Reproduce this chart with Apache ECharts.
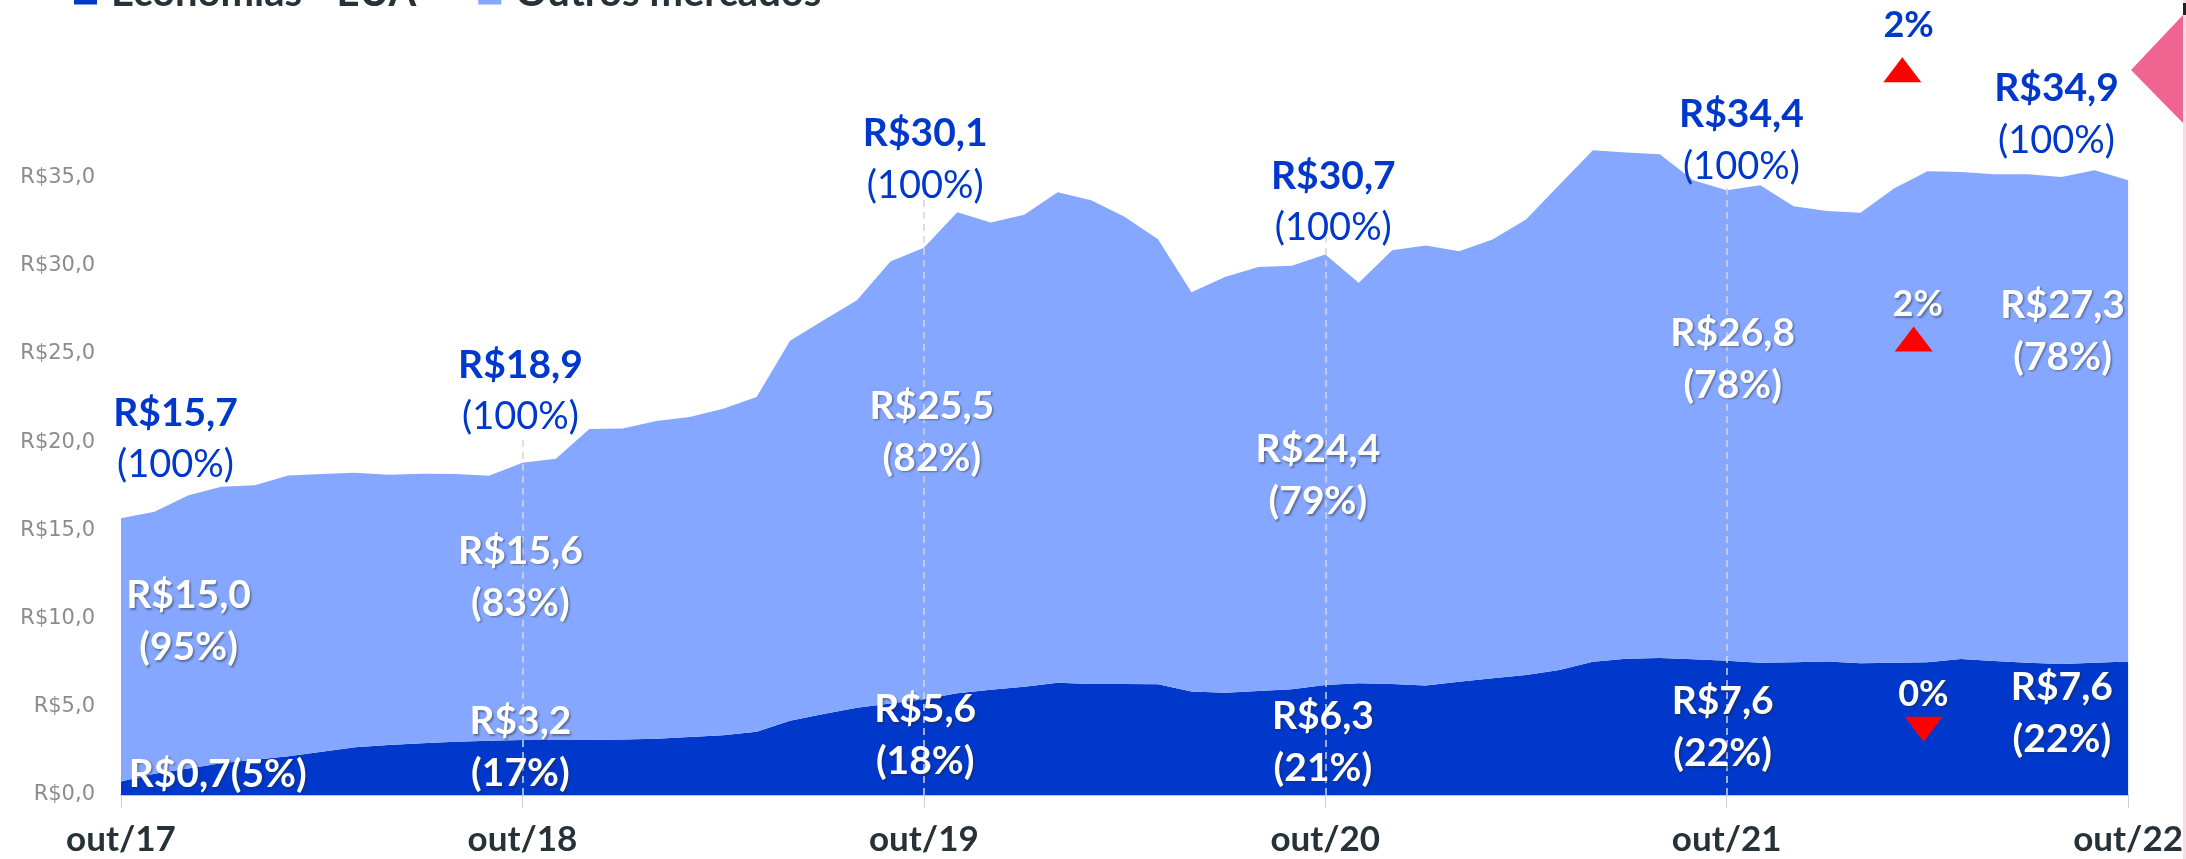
<!DOCTYPE html>
<html>
<head>
<meta charset="utf-8">
<script src="https://cdn.jsdelivr.net/npm/echarts@6/dist/echarts.min.js"></script>
<style>
html, body { margin: 0; padding: 0; background: #fff; }
#grafico { width: 2186px; height: 859px; }
</style>
</head>
<body>
<div id="grafico"></div>
<script>
// meses (out/17 a out/22)
var meses = ['out/17','nov/17','dez/17','jan/18','fev/18','mar/18','abr/18','mai/18','jun/18','jul/18','ago/18','set/18',
  'out/18','nov/18','dez/18','jan/19','fev/19','mar/19','abr/19','mai/19','jun/19','jul/19','ago/19','set/19',
  'out/19','nov/19','dez/19','jan/20','fev/20','mar/20','abr/20','mai/20','jun/20','jul/20','ago/20','set/20',
  'out/20','nov/20','dez/20','jan/21','fev/21','mar/21','abr/21','mai/21','jun/21','jul/21','ago/21','set/21',
  'out/21','nov/21','dez/21','jan/22','fev/22','mar/22','abr/22','mai/22','jun/22','jul/22','ago/22','set/22',
  'out/22'];

// valores em R$
var economiasEUA = [0.76,1.2,1.5,1.8,2.0,2.2,2.45,2.7,2.83,2.93,
  3.02,3.08,3.12,3.12,3.12,3.14,3.19,3.29,3.38,3.59,
  4.21,4.59,4.95,5.19,5.42,5.76,5.97,6.14,6.36,6.29,
  6.29,6.27,5.86,5.8,5.89,5.99,6.23,6.33,6.29,6.21,
  6.42,6.61,6.8,7.08,7.55,7.72,7.76,7.69,7.61,7.5,
  7.52,7.57,7.46,7.5,7.52,7.71,7.59,7.5,7.42,7.5,
  7.57];
var outrosMercados = [14.92,14.85,15.48,15.67,15.56,15.91,15.74,15.56,15.32,15.27,
  15.17,15.01,15.71,15.93,17.63,17.63,18.0,18.13,18.51,18.96,
  21.53,22.32,23.09,25.05,25.59,27.27,26.47,26.74,27.8,27.42,
  26.48,25.23,22.64,23.56,24.04,24.0,24.4,22.7,24.59,24.93,
  24.4,24.87,25.81,27.5,28.99,28.7,28.56,27.15,26.67,27.06,
  25.85,25.53,25.54,26.87,27.83,27.6,27.59,27.68,27.61,27.91,
  27.27];

// rotulos anuais
var totalValor = ['R$15,7','R$18,9','R$30,1','R$30,7','R$34,4','R$34,9'];
var totalPct = ['100%','100%','100%','100%','100%','100%'];
var outrosValor = ['R$15,0','R$15,6','R$25,5','R$24,4','R$26,8','R$27,3'];
var outrosPct = ['95%','83%','82%','79%','78%','78%'];
var euaValor = ['R$0,7','R$3,2','R$5,6','R$6,3','R$7,6','R$7,6'];
var euaPct = ['5%','17%','18%','21%','22%','22%'];

// variacao no ultimo ano
var variacaoTotal = '2%';
var variacaoOutros = '2%';
var variacaoEUA = '0%';

var corEUA = '#0038CC';
var corOutros = '#85A7FF';
var fonte = 'Lato, "Open Sans", sans-serif';

// onde ficam os rotulos (indice do mes, valor no eixo)
var posTotal = [[1.63,20.17],[11.94,22.9],[24.04,36.0],[36.24,33.6],[48.44,37.1],[57.86,38.55]];
var posOutros = [[2.02,9.82],[11.94,12.35],[24.24,20.56],[35.78,18.1],[48.18,24.7],[58.04,26.3]];
var posEUA = [[2.89,1.19],[11.94,2.67],[24.04,3.35],[35.93,3.0],[47.88,3.82],[58.02,4.64]];
var topoTracejado = [[12,20.3],[24,34.75],[36,32.86],[48,34.4]];

var sombra = { textShadowColor: 'rgba(40,40,40,0.45)', textShadowBlur: 2, textShadowOffsetX: 1.5, textShadowOffsetY: 1.5 };

function rotulo(coord, texto, rich) {
  return {
    coord: coord,
    symbol: 'circle',
    symbolSize: 1,
    itemStyle: { color: 'rgba(0,0,0,0)' },
    label: { show: true, position: 'inside', formatter: texto, rich: rich, fontFamily: fonte }
  };
}

var richAzul = {
  v: { fontFamily: fonte, fontSize: 39, fontWeight: 'bold', color: corEUA, lineHeight: 52, align: 'center' },
  p: { fontFamily: fonte, fontSize: 38, fontWeight: 'normal', color: corEUA, lineHeight: 52, align: 'center' }
};
var richBranco = {
  v: Object.assign({ fontFamily: fonte, fontSize: 39, fontWeight: 'bold', color: '#fff', lineHeight: 52, align: 'center' }, sombra),
  s: Object.assign({ fontFamily: fonte, fontSize: 36, fontWeight: 'bold', color: '#fff', lineHeight: 44, align: 'center' }, sombra),
  b: { fontFamily: fonte, fontSize: 36, fontWeight: 'bold', color: corEUA, lineHeight: 44, align: 'center' }
};

var pontos = [];
for (var k = 0; k < totalValor.length; k++) {
  pontos.push(rotulo(posTotal[k], '{v|' + totalValor[k] + '}\n{p|(' + totalPct[k] + ')}', richAzul));
  pontos.push(rotulo(posOutros[k], '{v|' + outrosValor[k] + '}\n{v|(' + outrosPct[k] + ')}', richBranco));
  if (k === 0) {
    pontos.push(rotulo(posEUA[k], '{v|' + euaValor[k] + '(' + euaPct[k] + ')}', richBranco));
  } else {
    pontos.push(rotulo(posEUA[k], '{v|' + euaValor[k] + '}\n{v|(' + euaPct[k] + ')}', richBranco));
  }
}
// indicadores de variacao
pontos.push(rotulo([53.44, 43.6], '{b|' + variacaoTotal + '}', richBranco));
pontos.push(rotulo([53.71, 27.8], '{s|' + variacaoOutros + '}', richBranco));
pontos.push(rotulo([53.88, 5.73], '{s|' + variacaoEUA + '}', richBranco));
pontos.push({ coord: [53.25, 41.1], symbol: 'triangle', symbolSize: [38, 25], itemStyle: { color: '#FF0000' }, label: { show: false } });
pontos.push({ coord: [53.59, 25.84], symbol: 'triangle', symbolSize: [38, 25], itemStyle: { color: '#FF0000' }, label: { show: false } });
pontos.push({ coord: [53.89, 3.73], symbol: 'triangle', symbolRotate: 180, symbolSize: [38, 25], itemStyle: { color: '#FF0000' }, label: { show: false } });

var tracejados = topoTracejado.map(function (t) {
  return [{ coord: [t[0], 0] }, { coord: [t[0], t[1]] }];
});

var myChart = echarts.init(document.getElementById('grafico'));
var option = {
  animation: false,
  legend: {
    data: ['Economias - EUA', 'Outros mercados'],
    left: 69,
    top: -32,
    icon: 'rect',
    itemWidth: 23,
    itemHeight: 23,
    itemGap: 62,
    textStyle: { fontFamily: fonte, fontSize: 40, fontWeight: 'bold', color: '#263238', padding: [0, 0, 0, 9] }
  },
  grid: { left: 121, right: 57, top: 1, bottom: 64, containLabel: false },
  xAxis: [
    {
      type: 'category',
      data: meses,
      boundaryGap: false,
      axisLine: { show: true, lineStyle: { color: '#c4c4c4', width: 2 } },
      axisTick: { show: true, interval: 11, length: 13, lineStyle: { color: '#d0d0d0', width: 1 } },
      splitLine: { show: false },
      axisLabel: {
        interval: 11,
        margin: 27,
        fontFamily: fonte,
        fontSize: 35,
        fontWeight: 'bold',
        color: '#263238'
      }
    },
    {
      // eixo auxiliar so para posicionar as anotacoes
      type: 'value',
      min: 0,
      max: 60,
      show: false
    }
  ],
  yAxis: {
    type: 'value',
    min: 0,
    max: 45,
    interval: 5,
    axisLine: { show: false },
    axisTick: { show: false },
    splitLine: { show: false },
    axisLabel: {
      margin: 26,
      fontFamily: '"DejaVu Sans", sans-serif',
      fontSize: 21,
      color: '#8c8c8c',
      formatter: function (v) {
        if (v > 35) return '';
        return 'R$' + v.toFixed(1).replace('.', ',');
      }
    }
  },
  series: [
    {
      name: 'Economias - EUA',
      type: 'line',
      stack: 'total',
      symbol: 'none',
      data: economiasEUA,
      lineStyle: { width: 0 },
      itemStyle: { color: corEUA },
      areaStyle: { color: corEUA, opacity: 1 }
    },
    {
      name: 'Outros mercados',
      type: 'line',
      stack: 'total',
      symbol: 'none',
      data: outrosMercados,
      lineStyle: { width: 0 },
      itemStyle: { color: corOutros },
      areaStyle: { color: corOutros, opacity: 1 }
    },
    {
      name: 'anotacoes',
      type: 'line',
      xAxisIndex: 1,
      data: [],
      symbol: 'none',
      markLine: {
        silent: true,
        symbol: 'none',
        label: { show: false },
        lineStyle: { color: '#d6d6d6', type: [7, 5], width: 1.5 },
        data: tracejados
      },
      markPoint: {
        silent: true,
        data: pontos
      }
    }
  ],
  graphic: [
    { type: 'rect', shape: { x: 2183, y: 0, width: 3, height: 859 }, style: { fill: '#F9DCE6' } },
    { type: 'rect', shape: { x: 2183, y: 3, width: 3, height: 12 }, style: { fill: '#222' } },
    { type: 'polygon', shape: { points: [[2131, 70], [2183, 15], [2183, 123]] }, style: { fill: '#F06492' } }
  ]
};
option && myChart.setOption(option);
</script>
</body>
</html>
